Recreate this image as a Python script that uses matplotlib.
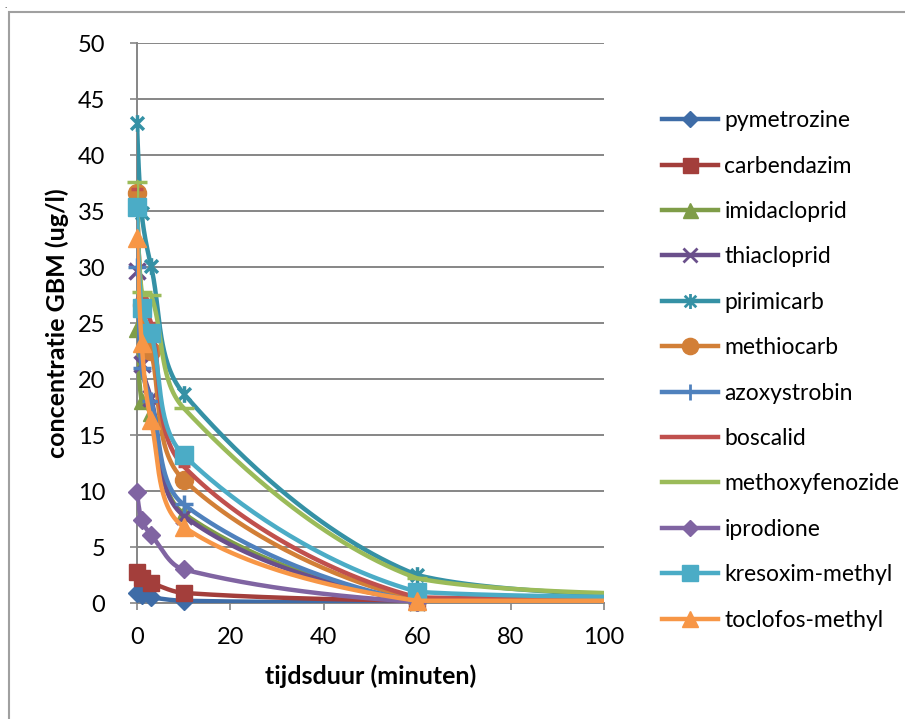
import numpy as np
import matplotlib.pyplot as plt
from matplotlib.lines import Line2D
from matplotlib.path import Path
from matplotlib.patches import Rectangle

plt.rcParams['font.family'] = ['Lato', 'DejaVu Sans']

# meetmomenten (minuten); laatste punt ligt buiten de x-as
tijd = [0, 1, 3, 10, 60, 120]

pymetrozine = [0.9, 0.7, 0.5, 0.2, 0.05, 0.05]
carbendazim = [2.8, 2.2, 1.8, 0.9, 0.2, 0.15]
imidacloprid = [24.5, 18.0, 17.0, 8.0, 0.1, 0.1]
thiacloprid = [29.6, 21.3, 18.3, 7.8, 0.1, 0.1]
pirimicarb = [42.9, 34.8, 30.1, 18.7, 2.5, 0.6]
methiocarb = [36.6, 26.6, 22.5, 11.0, 0.3, 0.25]
azoxystrobin = [30.0, 21.0, 18.0, 8.8, 0.1, 0.1]
boscalid = [37.0, 27.2, 25.0, 12.2, 0.5, 0.35]
methoxyfenozide = [37.6, 27.8, 27.5, 17.4, 2.2, 0.75]
iprodione = [9.9, 7.4, 6.1, 3.0, 0.1, 0.1]
kresoxim_methyl = [35.4, 26.3, 24.1, 13.2, 1.0, 0.5]
toclofos_methyl = [32.6, 23.2, 16.3, 6.8, 0.2, 0.2]

namen = ['pymetrozine', 'carbendazim', 'imidacloprid', 'thiacloprid', 'pirimicarb',
         'methiocarb', 'azoxystrobin', 'boscalid', 'methoxyfenozide', 'iprodione',
         'kresoxim-methyl', 'toclofos-methyl']
reeksen = [pymetrozine, carbendazim, imidacloprid, thiacloprid, pirimicarb,
           methiocarb, azoxystrobin, boscalid, methoxyfenozide, iprodione,
           kresoxim_methyl, toclofos_methyl]

kleuren = ['#3E6CA7', '#A33E3B', '#7F9D48', '#6A4F8B', '#3591A5', '#D27F37',
           '#4F81BD', '#C0504D', '#9BBB59', '#8064A2', '#4BACC6', '#F79646']

# sterretje zoals in Excel: kruis met verticale streep
ster = Path([(-1, -1), (1, 1), (-1, 1), (1, -1), (0, -1.3), (0, 1.3)],
            [Path.MOVETO, Path.LINETO, Path.MOVETO, Path.LINETO, Path.MOVETO, Path.LINETO])
markers = ['D', 's', '^', 'x', ster, 'o', '+', '_', '_', 'D', 's', '^']
msizes = [9, 12, 12, 11, 12, 13, 13, 9, 15, 9, 13, 13]


def glad(x, y, n=60):
    # Bezier-smoothing zoals Excel ongeveer doet, zonder doorschieten
    sx, sy = 4.67, 11.2
    p = np.column_stack([np.array(x, float) * sx, np.array(y, float) * sy])
    uit = []
    for i in range(len(p) - 1):
        p0 = p[i - 1] if i > 0 else p[i]
        p1, p2 = p[i], p[i + 1]
        p3 = p[i + 2] if i + 2 < len(p) else p[i + 1]
        d01 = np.linalg.norm(p1 - p0)
        d12 = np.linalg.norm(p2 - p1)
        d23 = np.linalg.norm(p3 - p2)
        f1 = d12 / (d01 + d12) / 1.5 if d01 > 0 else 0
        f2 = d12 / (d12 + d23) / 1.5 if d23 > 0 else 0
        c1 = p1 + (p2 - p0) * f1 / 2
        c2 = p2 - (p3 - p1) * f2 / 2
        lo, hi = min(p1[1], p2[1]), max(p1[1], p2[1])
        c1[1] = np.clip(c1[1], lo, hi)
        c2[1] = np.clip(c2[1], lo, hi)
        t = np.linspace(0, 1, n)[:, None]
        seg = (1 - t) ** 3 * p1 + 3 * (1 - t) ** 2 * t * c1 + 3 * (1 - t) * t ** 2 * c2 + t ** 3 * p2
        uit.append(seg if i == 0 else seg[1:])
    uit = np.vstack(uit)
    return uit[:, 0] / sx, uit[:, 1] / sy


fig = plt.figure(figsize=(9.05, 7.19), dpi=100)
ax = fig.add_axes([137 / 905, 1 - 603 / 719, 467 / 905, 560 / 719])

handles = []
for i, (naam, y) in enumerate(zip(namen, reeksen)):
    gx, gy = glad(tijd, y)
    ax.plot(gx, gy, color=kleuren[i], lw=3.2, zorder=3 + i, solid_capstyle='round')
    tx = [t for t in tijd if t <= 100]
    dik = markers[i] in ('x', '+', '_') or i == 4
    ax.plot(tx, y[:len(tx)], ls='none', marker=markers[i], ms=msizes[i], color=kleuren[i],
            mec=kleuren[i], mew=2.5 if dik else 1, zorder=3 + i, clip_on=False)
    handles.append(Line2D([], [], color=kleuren[i], lw=3.2, marker=markers[i],
                          ms=msizes[i] * 0.9, mew=2 if dik else 1))

ax.set_xlim(0, 100)
ax.set_ylim(0, 50)
ax.set_xticks(range(0, 101, 20))
ax.set_yticks(range(0, 51, 5))
ax.grid(axis='y', color='#868686', lw=1.4)
ax.set_axisbelow(True)
for s in ['top', 'right']:
    ax.spines[s].set_visible(False)
for s in ['left', 'bottom']:
    ax.spines[s].set_color('#868686')
    ax.spines[s].set_linewidth(1.4)
ax.tick_params(colors='#868686', labelcolor='black', labelsize=17, length=5, width=1.2)
ax.tick_params(axis='y', pad=18)
ax.tick_params(axis='x', pad=12)

ax.set_xlabel('tijdsduur (minuten)', fontsize=18, fontweight='bold', labelpad=12)
ax.set_ylabel('concentratie GBM (ug/l)', fontsize=18, fontweight='bold', labelpad=6)

fig.legend(handles, namen, loc='upper left', bbox_to_anchor=(653 / 905, 1 - 101 / 719),
           frameon=False, fontsize=16.5, handlelength=2.45, handletextpad=0.26,
           labelspacing=1.065, borderaxespad=0)

fig.patches.append(Rectangle((9 / 905, -0.02), 1.0, 1 - 12 / 719 + 0.02, transform=fig.transFigure,
                             fill=False, ec='#A0A0A0', lw=1.5))
fig.text(4 / 905, 1 - 1 / 719, '.', fontsize=7, va='top')

fig.savefig('out.png', dpi=100)
